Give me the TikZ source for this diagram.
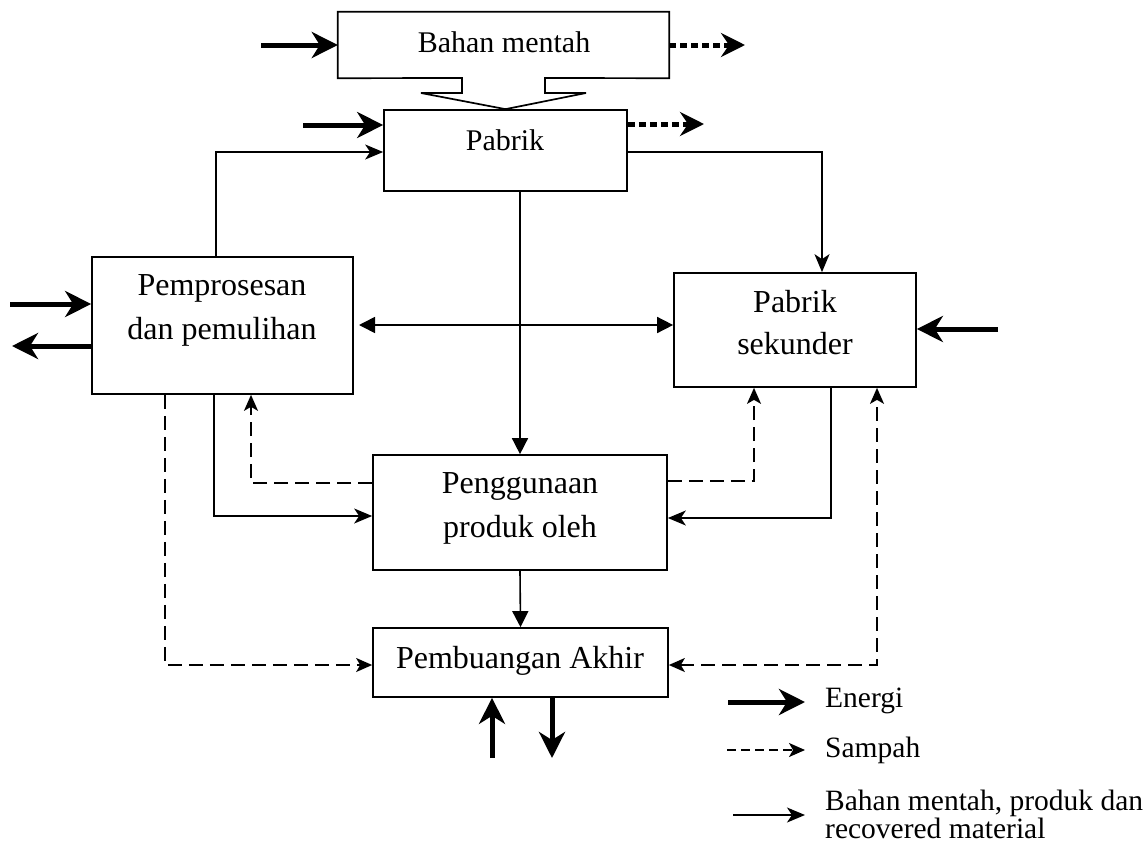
\documentclass[tikz,border=0pt]{standalone}
\usepackage{fontspec}
\setmainfont{Liberation Serif}
\usetikzlibrary{arrows.meta,calc}
\begin{document}
\begin{tikzpicture}[x=1pt,y=-1pt,
 box/.style={draw, line width=1.7pt, rectangle, inner sep=0pt},
 txt/.style={anchor=base, inner sep=0pt, font=\fontsize{32}{38}\selectfont},
 stxt/.style={anchor=base, inner sep=0pt, font=\fontsize{30}{36}\selectfont},
 ltxt/.style={anchor=base west, inner sep=0pt, font=\fontsize{29.5}{34}\selectfont},
 energy/.style={line width=5pt, -{Stealth[length=26pt,width=26pt,inset=8pt]}},
 eout/.style={line width=5pt, dash pattern=on 7pt off 4pt, -{Stealth[length=24pt,width=24pt,inset=8pt]}},
 flow/.style={line width=1.6pt, -{Stealth[length=18pt,width=15pt,inset=5pt]}},
 tflow/.style={line width=1.6pt, -{Triangle[length=16pt,width=16pt]}},
 dflow/.style={line width=1.6pt, {Triangle[length=16pt,width=16pt]}-{Triangle[length=16pt,width=16pt]}},
 waste/.style={line width=1.6pt, dash pattern=on 14pt off 7pt, -{Stealth[length=16pt,width=14pt,inset=4pt]}},
 dwaste/.style={line width=1.6pt, dash pattern=on 14pt off 7pt, {Stealth[length=16pt,width=14pt,inset=4pt]}-{Stealth[length=16pt,width=14pt,inset=4pt]}},
]
\useasboundingbox (0,0) rectangle (1146,844);

% boxes
\node[inner sep=0pt, minimum width=331pt, minimum height=66pt] (bm) at (503.5,45) {};
\node[box, minimum width=243pt, minimum height=81pt] (pab) at (505.5,150.5) {};
\node[box, minimum width=261pt, minimum height=137pt] (pem) at (222.5,325.5) {};
\node[box, minimum width=242pt, minimum height=114pt] (sek) at (795,330) {};
\node[box, minimum width=294pt, minimum height=115pt] (peng) at (520,512.5) {};
\node[box, minimum width=295pt, minimum height=69pt] (pemb) at (520.5,662.5) {};

% funnel outline of Bahan mentah
\draw[line width=1.7pt, line join=miter] (bm.north west) -- (bm.north east) -- (bm.south east) -- (545,78) -- (545,93) -- (586,93) -- (pab.north) -- (421,93) -- (462,93) -- (462,78) -- (bm.south west) -- cycle;

% texts
\node[stxt] (tbm) at (504,52) {Bahan mentah};
\node[stxt] (tpab) at (505,150) {Pabrik};
\node[txt] (tpem1) at (222,295) {Pemprosesan};
\node[txt] (tpem2) at (222,339) {dan pemulihan};
\node[txt] (tsek1) at (795,312) {Pabrik};
\node[txt] (tsek2) at (795,354) {sekunder};
\node[txt] (tpeng1) at (520,493) {Penggunaan};
\node[txt] (tpeng2) at (520,537) {produk oleh};
\node[txt] (tpemb) at (520,668) {Pembuangan Akhir};

% coordinates for free ends and bends
\coordinate (e1) at (261,45);
\coordinate (e2) at (745,45);
\coordinate (e3) at (303,125);
\coordinate (e4) at (704,124);
\coordinate (e5) at (10,304);
\coordinate (e6) at (12,346);
\coordinate (e7) at (998,329);
\coordinate (e8) at (492,758);
\coordinate (e9) at (552,758);
\coordinate (c1) at (216,152);
\coordinate (c2) at (822,152);
\coordinate (c3) at (359,325);
\coordinate (c4) at (214,516);
\coordinate (c5) at (251,483);
\coordinate (c6) at (165,665);
\coordinate (c7) at (754,481);
\coordinate (c8) at (831,518);
\coordinate (c9) at (877,665);

% energy arrows
\draw[energy] (e1) -- (bm.west |- e1);
\draw[eout] (bm.east |- e2) -- (e2);
\draw[energy] (e3) -- (pab.west |- e3);
\draw[eout] (pab.east |- e4) -- (e4);
\draw[energy] (e5) -- (pem.west |- e5);
\draw[energy] (pem.west |- e6) -- (e6);
\draw[energy] (e7) -- (sek.east |- e7);
\draw[energy] (e8) -- (pemb.south -| e8);
\draw[energy] (pemb.south -| e9) -- (e9);

% material flows
\draw[flow] (pem.north -| c1) |- (pab.west |- c1);
\draw[flow] (pab.east |- c2) -| (sek.north -| c2);
\draw[dflow] (c3) -- (sek.west |- c3);
\draw[tflow] (pab.south -| peng.north) -- (peng.north);
\draw[flow] (pem.south -| c4) |- (peng.west |- c4);
\draw[flow] (sek.south -| c8) |- (peng.east |- c8);
\draw[tflow] (peng.south) -- (pemb.north);

% waste flows
\draw[waste] (peng.west |- c5) -| (pem.south -| c5);
\draw[waste] (pem.south -| c6) |- (pemb.west |- c6);
\draw[waste] (peng.east |- c7) -| (sek.south -| c7);
\draw[dwaste] (pemb.east |- c9) -| (sek.south -| c9);

% legend
\coordinate (l1a) at (728,702);
\coordinate (l1b) at (805,702);
\coordinate (l2a) at (727,750);
\coordinate (l2b) at (805,750);
\coordinate (l3a) at (733,815);
\coordinate (l3b) at (805,815);
\draw[energy] (l1a) -- (l1b);
\draw[line width=1.6pt, dash pattern=on 9pt off 5pt, -{Stealth[length=16pt,width=14pt,inset=4pt]}] (l2a) -- (l2b);
\draw[flow] (l3a) -- (l3b);
\node[ltxt] (lg1) at (825,707) {Energi};
\node[ltxt] (lg2) at (825,757) {Sampah};
\node[ltxt] (lg3) at (825,810) {Bahan mentah, produk dan};
\node[ltxt] (lg4) at (825,838) {recovered material};
\end{tikzpicture}
\end{document}
